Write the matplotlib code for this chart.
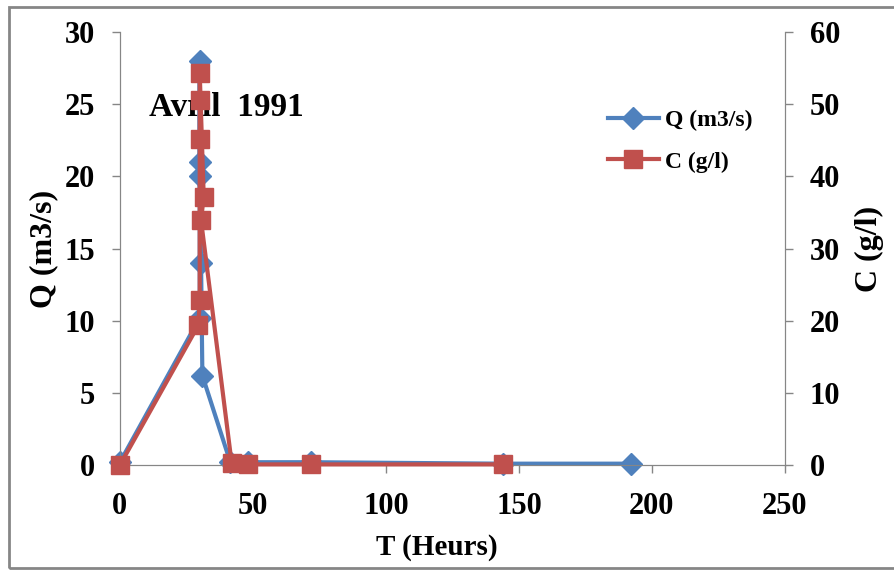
import matplotlib.pyplot as plt
from matplotlib.patches import Rectangle

# Crue d'avril 1991 : débit et concentration
t_q = [0, 30, 30, 30, 30, 30.5, 31, 41.5, 48, 72, 144, 192]
q = [0.2, 10.2, 28, 21, 20, 14, 6.2, 0.2, 0.2, 0.2, 0.1, 0.1]

t_c = [0, 29.5, 30, 30, 30, 30, 31.5, 30.5, 42, 48, 72, 144]
c = [0, 19.4, 22.9, 45.2, 50.6, 54.3, 37.2, 33.9, 0.3, 0.1, 0.1, 0.1]

x_ticks = [0, 50, 100, 150, 200, 250]
q_ticks = [0, 5, 10, 15, 20, 25, 30]
c_ticks = [0, 10, 20, 30, 40, 50, 60]

blue = '#4F81BD'
red = '#C0504D'
grey = '#868686'

plt.rcParams['font.family'] = 'Liberation Serif'
plt.rcParams['font.weight'] = 'bold'

fig = plt.figure(figsize=(8.95, 5.7), dpi=100)
ax = fig.add_axes([0.134, 0.184, 0.743, 0.76])
ax2 = ax.twinx()

lq, = ax.plot(t_q, q, color=blue, lw=3, marker='D', ms=11, clip_on=False,
              label='Q (m3/s)', zorder=3)
lc, = ax2.plot(t_c, c, color=red, lw=3, marker='s', ms=13, clip_on=False,
               label='C (g/l)', zorder=3)

ax.set_xlim(0, 250)
ax.set_ylim(0, 30)
ax2.set_ylim(0, 60)
ax.set_xticks(x_ticks)
ax.set_yticks(q_ticks)
ax2.set_yticks(c_ticks)

for a in (ax, ax2):
    for s in a.spines.values():
        s.set_color(grey)
    a.spines['top'].set_visible(False)
    a.tick_params(direction='out', length=6, color=grey, labelsize=22, width=1, pad=12)
ax.tick_params(axis='x', pad=13)

ax.set_xlabel('T (Heurs)', fontsize=21, fontweight='bold')
ax.set_ylabel('Q (m3/s)', fontsize=23, fontweight='bold')
ax2.set_ylabel('C (g/l)', fontsize=23, fontweight='bold')
ax.xaxis.set_label_coords(0.477, -0.16)
ax.yaxis.set_label_coords(-0.093, 0.5)
ax2.yaxis.set_label_coords(1.105, 0.5)

ax.text(11, 24.2, 'Avril  1991', fontsize=24, fontweight='bold')

ax.legend([lq, lc], ['Q (m3/s)', 'C (g/l)'], loc='upper left',
          bbox_to_anchor=(0.702, 0.87), frameon=False, fontsize=17,
          handlelength=2.15, handletextpad=0.25, labelspacing=0.85)

# cadre du graphique
fig.patches.append(Rectangle((0.0095, 0.0035), 1.0, 0.985, transform=fig.transFigure,
                             fill=False, edgecolor=grey, lw=2))

fig.savefig('out.png', dpi=100)
